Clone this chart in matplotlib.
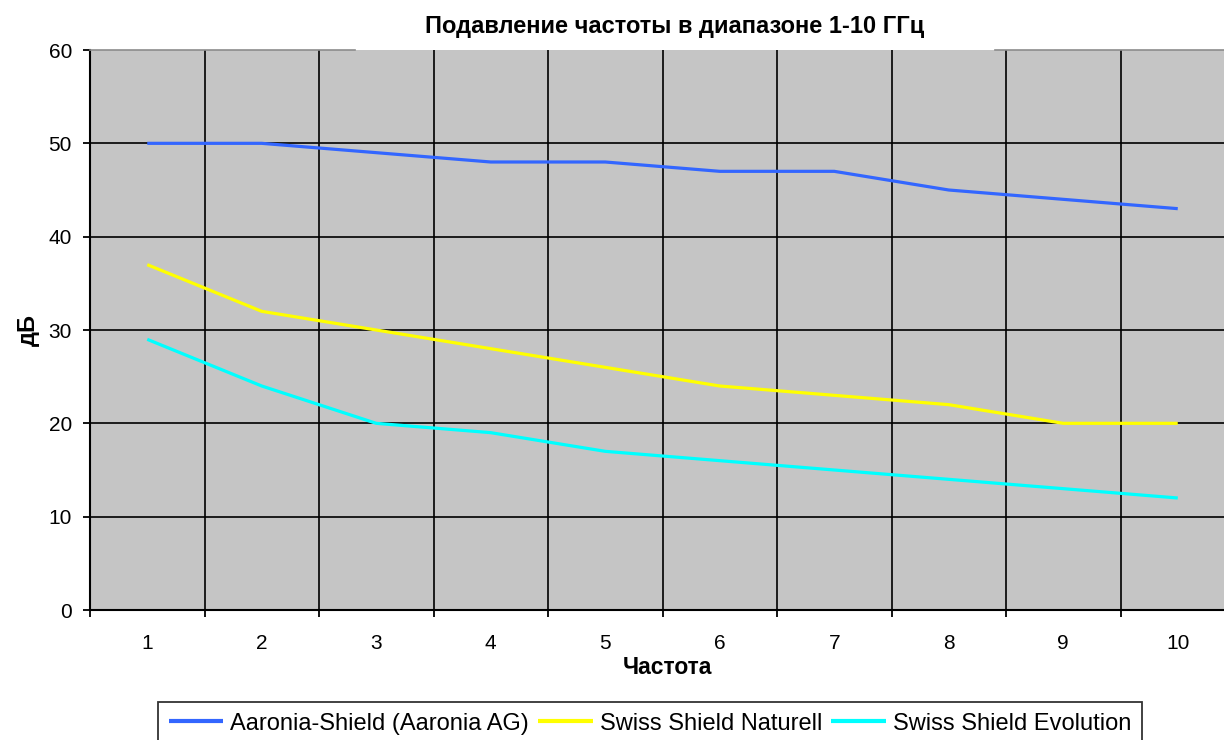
import matplotlib
matplotlib.use("Agg")
import matplotlib.pyplot as plt
from matplotlib.ticker import FixedLocator, NullFormatter

plt.rcParams['font.family'] = ['Liberation Sans', 'DejaVu Sans']

# ---------- data ----------
categories = [1, 2, 3, 4, 5, 6, 7, 8, 9, 10]
aaronia = [50, 50, 49, 48, 48, 47, 47, 45, 44, 43]
naturell = [37, 32, 30, 28, 26, 24, 23, 22, 20, 20]
evolution = [29, 24, 20, 19, 17, 16, 15, 14, 13, 12]
series_names = ["Aaronia-Shield (Aaronia AG)", "Swiss Shield Naturell",
                "Swiss Shield Evolution"]
y_ticks = [0, 10, 20, 30, 40, 50, 60]

W, H = 1224, 740
fig = plt.figure(figsize=(W / 100, H / 100), dpi=100)

# plot area runs past the right edge, as in the cropped original
left, right, top, bottom = 90, 1235, 50, 610
ax = fig.add_axes([left / W, 1 - bottom / H, (right - left) / W, (bottom - top) / H])
ax.set_facecolor("#C5C5C5")

ax.set_xlim(0.5, 10.5)
ax.set_ylim(0, 60)

# grid: vertical lines on category borders, horizontal on value ticks
for b in [c + 0.5 for c in categories[:-1]]:
    ax.axvline(b, color="black", lw=1.2, zorder=1)
for t in y_ticks[1:-1]:
    ax.axhline(t, color="black", lw=1.2, zorder=1)

colors = ["#3366FF", "#FFFF00", "#00FFFF"]
for vals, c, name in zip([aaronia, naturell, evolution], colors, series_names):
    ax.plot(categories, vals, color=c, lw=2.3, label=name, zorder=3,
            solid_capstyle="butt")

# spines
for s in ["top", "right"]:
    ax.spines[s].set_visible(False)
ax.spines["left"].set_linewidth(1.5)
ax.spines["bottom"].set_linewidth(1.5)
# top border, broken where the title box sits
for x0, x1 in [(left, 355), (995, right)]:
    ax.plot([(x0 - left) / (right - left), (x1 - left) / (right - left)], [1, 1],
            transform=ax.transAxes, color="#8C8C8C", lw=1.2, clip_on=False, zorder=4)

# ticks
ax.set_yticks(y_ticks)
ax.tick_params(axis="y", direction="out", length=5, width=1.3, pad=8,
               labelsize=15)
ax.xaxis.set_major_locator(FixedLocator([c - 0.5 for c in categories] + [10.5]))
ax.xaxis.set_major_formatter(NullFormatter())
ax.xaxis.set_minor_locator(FixedLocator(categories))
ax.set_xticklabels([str(c) for c in categories], minor=True)
ax.tick_params(axis="x", which="major", direction="out", length=5, width=1.3)
ax.tick_params(axis="x", which="minor", length=0, pad=17, labelsize=15)

# texts
fig.text(675 / W, 1 - 26 / H, "Подавление частоты в диапазоне 1-10 ГГц",
         ha="center", va="center", fontsize=17, fontweight="bold")
fig.text(667 / W, 1 - 668 / H, "Частота", ha="center", va="center",
         fontsize=16.5, fontweight="bold")
fig.text(28 / W, 1 - 330 / H, "дБ", ha="center", va="center", rotation=90,
         fontsize=17, fontweight="bold")

leg = fig.legend(loc="upper left", bbox_to_anchor=(158 / W, 1 - 702 / H),
                 ncol=3, fontsize=17, frameon=True, fancybox=False,
                 edgecolor="black", handlelength=2.3, handletextpad=0.3,
                 columnspacing=0.4, borderpad=0.45, borderaxespad=0)
leg.get_frame().set_linewidth(1.3)
for line in leg.get_lines():
    line.set_linewidth(3)

fig.savefig("out.png", dpi=100)
